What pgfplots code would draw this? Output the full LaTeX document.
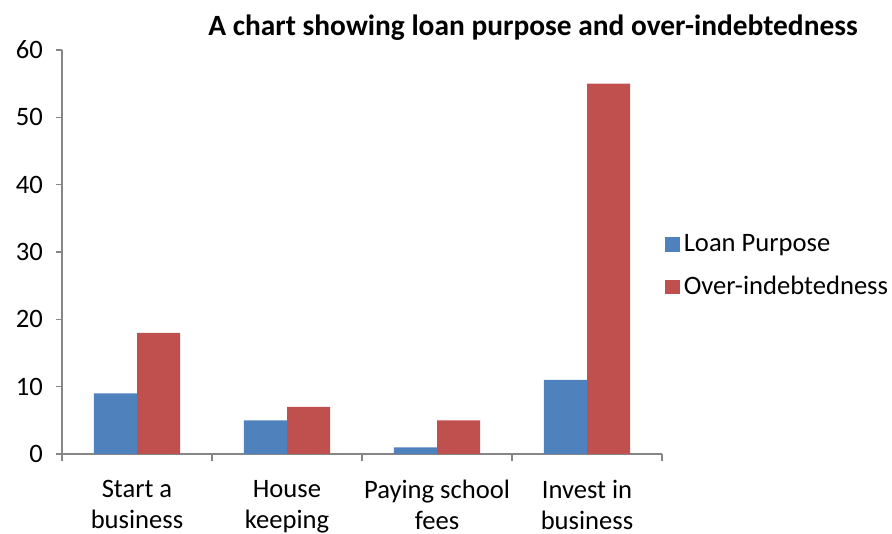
\documentclass[border=0pt]{standalone}
\usepackage{pgfplots}
\pgfplotsset{compat=1.18}
\usepackage{fontspec}
\setmainfont{Carlito}
\definecolor{lpblue}{HTML}{4F81BD}
\definecolor{oired}{HTML}{C0504D}
\definecolor{axgray}{HTML}{868686}
\begin{document}
\begin{tikzpicture}
\path[use as bounding box] (-31pt,-40pt) rectangle (415pt,227pt);
\begin{axis}[
  at={(0pt,0pt)}, anchor=south west,
  scale only axis,
  width=300pt, height=202pt,
  xmin=-0.5, xmax=3.5,
  ymin=0, ymax=60,
  ytick={0,10,...,60},
  xtick={0,1,2,3},
  xticklabels={{Start a\\business},{House\\keeping},{Paying school\\fees},{Invest in\\business}},
  minor xtick={-0.5,0.5,1.5,2.5,3.5},
  major x tick style={draw=none},
  tick align=outside,
  major tick length=3pt,
  minor tick length=3.5pt,
  axis x line*=bottom,
  axis y line*=left,
  axis line style={axgray, line width=0.6pt},
  every tick/.style={axgray, line width=0.6pt},
  minor tick style={axgray, line width=0.6pt},
  xticklabel style={align=center, font=\fontsize{13.3}{15.5}\selectfont, yshift=-6.5pt},
  yticklabel style={font=\fontsize{13.3}{15.5}\selectfont, xshift=-3pt},
  /pgf/number format/assume math mode=true,
  legend style={draw=none, fill=none, at={(axis description cs:1.005,0.465)}, anchor=west,
    font=\fontsize{13.3}{15.5}\selectfont, row sep=7pt, inner sep=0pt,
    /tikz/every even column/.append style={column sep=4.5pt}},
  legend cell align=left,
  legend image code/.code={\fill[#1] (0pt,-3.6pt) rectangle (7.2pt,3.6pt);},
  clip=false,
]
\addplot[ybar, bar width=0.287, bar shift=-0.1435, fill=lpblue, draw=none] coordinates {(0,9) (1,5) (2,1) (3,11)};
\addlegendentry{Loan Purpose}
\addplot[ybar, bar width=0.287, bar shift=0.1435, fill=oired, draw=none] coordinates {(0,18) (1,7) (2,5) (3,55)};
\addlegendentry{Over-indebtedness}
\end{axis}
\node[font=\bfseries\fontsize{14.7}{17}\selectfont] at (235.5pt,213pt) {A chart showing loan purpose and over-indebtedness};
\end{tikzpicture}
\end{document}
